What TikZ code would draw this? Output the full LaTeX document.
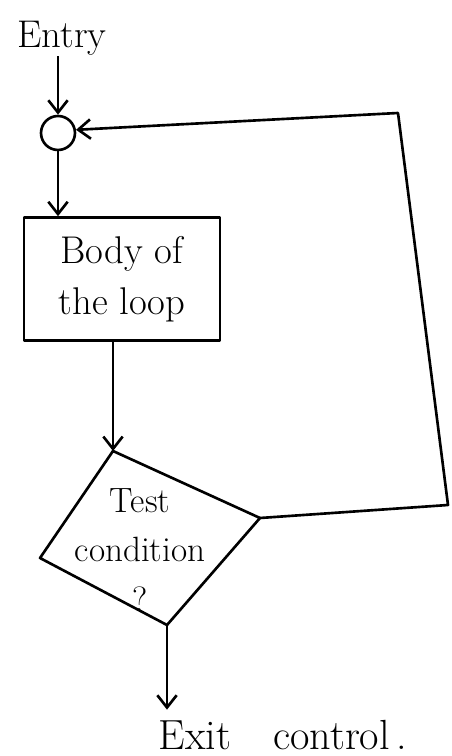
\documentclass[tikz,border=0pt]{standalone}
\usetikzlibrary{arrows.meta}
\begin{document}
\begin{tikzpicture}[x=0.02cm,y=-0.02cm,line width=1.5pt,line join=round,
        flow/.style={-{Straight Barb[length=7pt,width=11pt]}},
        label/.style={inner sep=0pt}]
        
            \useasboundingbox (0,0) rectangle (452,756);

            %ingresso e nodo di raccolta
            \node[label,font=\fontsize{22}{26}\selectfont] (entry) at (62,38) {Entry};
            \node[draw,circle,minimum size=0.68cm,inner sep=0pt] (junction) at (58,133) {};

            %corpo del ciclo
            \node[draw,minimum width=3.92cm,minimum height=2.46cm,align=center,
                  font=\fontsize{22}{29}\selectfont] (body) at (122,279) {Body of\\the loop};

            %rombo condizione
            \coordinate (testtop) at (113,451);
            \coordinate (testright) at (260,518);
            \coordinate (testbot) at (167,625);
            \coordinate (testleft) at (40,558);
            \draw (testtop) -- (testright) -- (testbot) -- (testleft) -- cycle;
            \node[label,align=center,font=\fontsize{20}{28}\selectfont] (test) at (140,550) {Test\\condition\\?};

            %uscita
            \node[label,outer sep=6pt,font=\fontsize{24}{28}\selectfont] (exit) at (283,735) {Exit\quad control\,.};

             %freccie
             \draw[flow] (junction |- entry.south) -- (junction);
             \draw[flow] (junction) -- (junction |- body.north);
             \draw[flow] (testtop |- body.south) -- (testtop);
             \draw[flow] (testbot) -- (testbot |- exit.north);

             %ritorno
             \coordinate (loopSE) at (448,505);
             \coordinate (loopNE) at (398,113);
             \draw[flow] (testright) -- (loopSE) -- (loopNE) -- (junction.10);
        \end{tikzpicture}
\end{document}
